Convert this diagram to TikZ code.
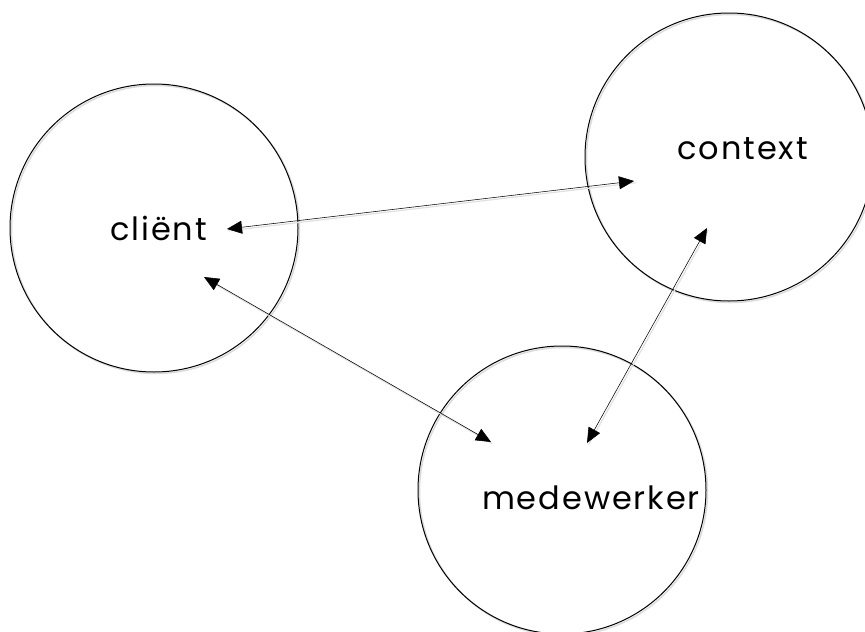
\documentclass[tikz,border=0pt]{standalone}
\usepackage{fontspec}
\newfontfamily\labelfont[LetterSpace=6]{Poppins}
\usetikzlibrary{arrows.meta}
\tikzset{
  blob/.style={circle, draw=black, line width=1pt, minimum size=288pt, inner sep=0pt},
  blobshadow/.style={circle, draw=black!14, line width=1.5pt, minimum size=288pt, inner sep=0pt},
  lbl/.style={font=\labelfont\fontsize{32}{36}\selectfont, inner sep=0pt, anchor=base},
  link/.style={line width=0.55pt, {Triangle[length=15pt,width=13pt]}-{Triangle[length=15pt,width=13pt]}},
  linkshadow/.style={line width=1.2pt, draw=black!12}
}
\begin{document}
\begin{tikzpicture}[x=1pt,y=-1pt]
\useasboundingbox (0,0) rectangle (865,632);
% shadows
\node[blobshadow] at (155.5,229.5) {};
\node[blobshadow] at (730.5,158.5) {};
\node[blobshadow] at (563.5,491.5) {};
% circles
\node[blob] (cl) at (154,228) {};
\node[blob] (co) at (729,157) {};
\node[blob] (me) at (562,490) {};
% labels
\node[lbl] (clt) at (158.5,240) {cliënt};
\node[lbl] (cot) at (742.5,159) {context};
\node[lbl] (met) at (591,509) {medewerker};
% arrow endpoints
\coordinate (a1) at (227,229);
\coordinate (a2) at (634,181);
\coordinate (b1) at (204,277);
\coordinate (b2) at (491,442);
\coordinate (c1) at (707,228);
\coordinate (c2) at (587,443);
% shadows of links
\draw[linkshadow] ([shift={(1.5,1.8)}]a1) -- ([shift={(1.5,1.8)}]a2);
\draw[linkshadow] ([shift={(1.5,1.8)}]b1) -- ([shift={(1.5,1.8)}]b2);
\draw[linkshadow] ([shift={(1.5,1.8)}]c1) -- ([shift={(1.5,1.8)}]c2);
% links
\draw[link] (a1) -- (a2);
\draw[link] (b1) -- (b2);
\draw[link] (c1) -- (c2);
\end{tikzpicture}
\end{document}
